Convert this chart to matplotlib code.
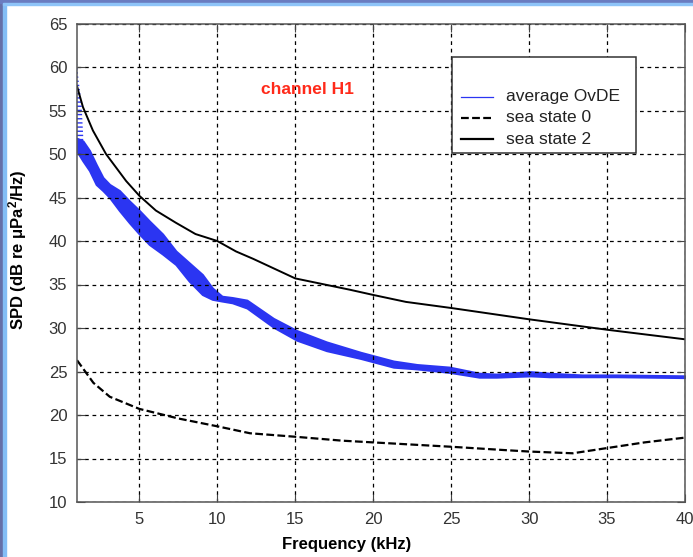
import numpy as np
import matplotlib
matplotlib.use("Agg")
import matplotlib.pyplot as plt
from matplotlib.patches import Rectangle
from matplotlib.lines import Line2D

plt.rcParams['font.family'] = ['Liberation Sans', 'DejaVu Sans']

# average OvDE band (upper / lower edge of the scatter band)
freq_ovde = [1.0, 1.38, 1.8, 2.23, 2.66, 3.09, 3.72, 4.36, 5.0, 5.64, 6.49, 7.34,
             8.19, 9.04, 9.68, 10.3, 10.96, 11.9, 13.6, 15.1, 17.0, 19.2, 21.3,
             22.8, 24.9, 26.8, 27.9, 30.1, 31.3, 33.4, 35.6, 40.0]
ovde_upper = [51.8, 51.5, 50.4, 48.8, 47.3, 46.5, 45.8, 44.6, 43.5, 42.3, 40.8, 38.85,
              37.5, 36.15, 34.6, 33.65, 33.5, 33.2, 31.1, 29.7, 28.4, 27.2, 26.2,
              25.8, 25.5, 24.8, 24.7, 24.98, 24.8, 24.6, 24.6, 24.5]
ovde_lower = [50.3, 49.2, 48.1, 46.5, 45.8, 45.0, 43.5, 42.1, 40.8, 39.6, 38.5, 37.3,
              35.4, 33.85, 33.3, 33.1, 32.9, 32.3, 30.1, 28.6, 27.4, 26.5, 25.5,
              25.3, 24.9, 24.35, 24.35, 24.5, 24.4, 24.4, 24.4, 24.3]
# sparse scatter near 1 kHz
freq_sparse = [1.0, 1.1, 1.2, 1.3, 1.4]
sparse_upper = [60.5, 58.5, 57.2, 55.5, 52.0]
sparse_lower = [51.0, 51.0, 51.0, 51.0, 51.0]

# sea state 2
freq_ss2 = [1.0, 1.38, 2.02, 2.86, 4.15, 5.0, 6.06, 7.34, 8.6, 10.0, 11.2, 12.3,
            15.0, 18.5, 20.0, 22.1, 25.0, 30.0, 35.0, 40.0]
ss2 = [57.8, 55.4, 52.7, 50.0, 46.9, 45.2, 43.5, 42.1, 40.8, 40.0, 38.8, 37.95,
       35.7, 34.4, 33.8, 33.0, 32.3, 31.0, 29.8, 28.7]

# sea state 0
freq_ss0 = [1.0, 2.05, 3.1, 5.0, 7.5, 10.0, 12.1, 15.0, 18.0, 20.0, 25.0, 28.4,
            30.0, 32.8, 35.0, 37.4, 40.0]
ss0 = [26.3, 23.7, 22.1, 20.7, 19.6, 18.7, 17.9, 17.5, 17.05, 16.85, 16.35, 15.97,
       15.8, 15.6, 16.2, 16.85, 17.4]

blue = '#2b35f2'
W, H = 693, 557
fig = plt.figure(figsize=(W / 100, H / 100), dpi=100)
fig.patch.set_facecolor('white')

# screenshot frame
fig.patches.append(Rectangle((0, 0), 3 / W, 1, transform=fig.transFigure, color='#6670a8', zorder=0))
fig.patches.append(Rectangle((3 / W, 0), 3 / W, 1 - 3 / H, transform=fig.transFigure, color='#84bef6', zorder=0))
fig.patches.append(Rectangle((0, 1 - 3 / H), 1, 3 / H, transform=fig.transFigure, color='#6a7cc0', zorder=0))
fig.patches.append(Rectangle((3 / W, 1 - 5 / H), 1, 2 / H, transform=fig.transFigure, color='#8ec4f8', zorder=0))

ax = fig.add_axes([77 / W, (H - 502) / H, 608 / W, 478.5 / H])

ax.fill_between(freq_sparse, sparse_lower, sparse_upper, facecolor='none',
                edgecolor=blue, hatch='----', linewidth=0)
ax.fill_between(freq_ovde, ovde_lower, ovde_upper, color=blue, linewidth=1.5)
ax.plot(freq_ss0, ss0, color='black', lw=1.6, ls=(0, (3.5, 1.5)))
ax.plot(freq_ss2, ss2, color='black', lw=1.4)

ax.set_xlim(1, 40)
ax.set_ylim(10, 65)
ax.set_xticks(np.arange(5, 41, 5))
ax.set_yticks(np.arange(10, 66, 5))
ax.grid(True, color='black', ls=(0, (3, 3)), lw=0.9)
ax.tick_params(direction='in', top=True, right=True, length=6, labelsize=12,
               labelcolor='#333333', color='#444444', pad=7)
for s in ax.spines.values():
    s.set_color('#555555')
    s.set_linewidth(1.1)

ax.set_xlabel('Frequency (kHz)', fontsize=12, fontweight='bold', va='center')
ax.xaxis.set_label_coords((347 - 77) / 608, (502 - 545) / 478.5)
ax.set_ylabel('SPD (dB re $\\mathregular{\\mu}$Pa$\\mathregular{^2}$/Hz)', fontsize=12,
              fontweight='bold', va='center')
ax.yaxis.set_label_coords((18 - 77) / 608, (502 - 250) / 478.5)

ax.text(15.8, 57.4, 'channel H1', color='#ff2a1a', fontsize=12.5, fontweight='bold',
        ha='center', va='center')

# legend box drawn like the original (blank space above entries)
def axfrac(px, py):
    return (px - 77) / 608, (502 - py) / 478.5

x0, y0 = axfrac(452, 153.3)
x1, y1 = axfrac(636, 56.7)
ax.add_patch(Rectangle((x0, y0), x1 - x0, y1 - y0, transform=ax.transAxes,
                       facecolor='white', edgecolor='#333333', lw=1.1, zorder=5))
entries = [('average OvDE', blue, '-', 0.9, 97),
           ('sea state 0', 'black', (0, (3.5, 1.5)), 1.6, 118),
           ('sea state 2', 'black', '-', 1.6, 139)]
for label, c, ls, lw, py in entries:
    lx0, ly = axfrac(461, py)
    lx1, _ = axfrac(493, py)
    tx, _ = axfrac(506, py)
    ax.add_line(Line2D([lx0, lx1], [ly, ly], color=c, ls=ls, lw=lw,
                       transform=ax.transAxes, zorder=6))
    ax.text(tx, ly, label, transform=ax.transAxes, fontsize=12.5, color='#222222',
            va='center', ha='left', zorder=6)

fig.savefig('out.png', dpi=100)
